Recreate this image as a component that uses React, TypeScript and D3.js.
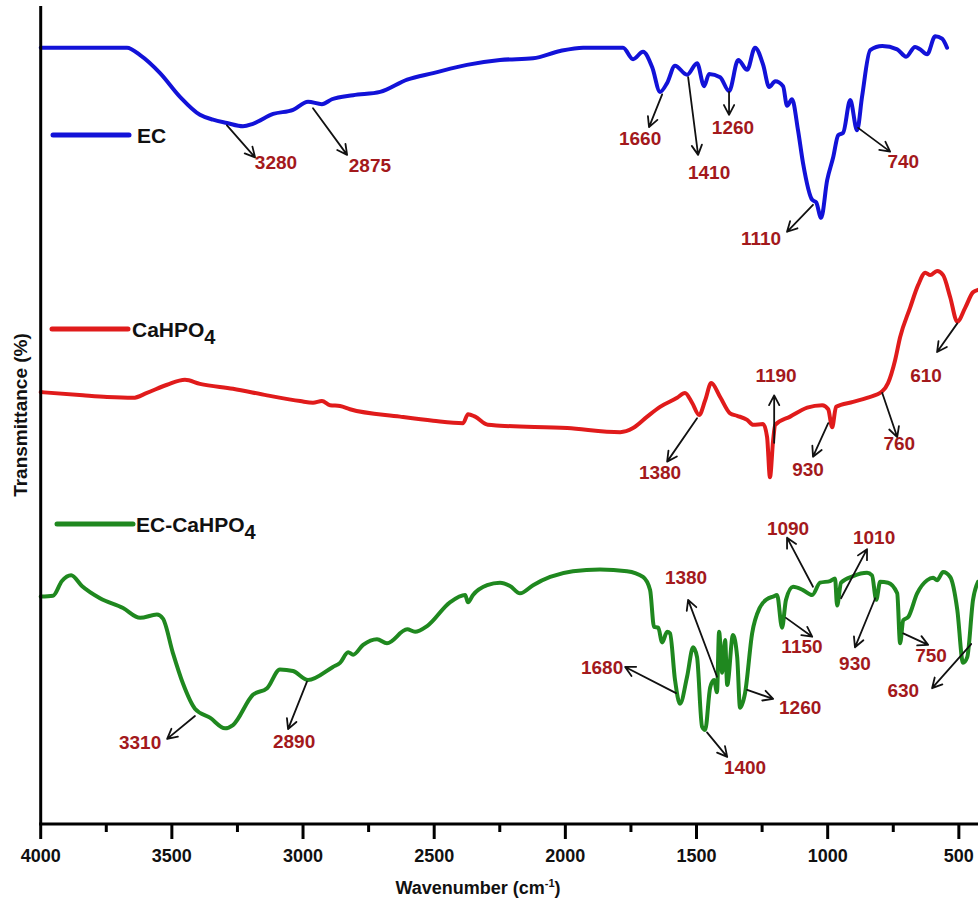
import React from "react";
import * as d3 from "d3";

// FTIR spectra: [wavenumber (cm-1), transmittance (%)]
const ecSpectrum: [number, number][] = [
  [4000, 94.9], [3671, 94.9], [3621, 94.0], [3545, 91.8], [3469, 88.9], [3393, 86.7],
  [3343, 86.1], [3290, 85.7], [3229, 85.3], [3191, 85.6], [3114, 86.8], [3038, 87.3],
  [2981, 88.3], [2928, 88.0], [2890, 88.6], [2809, 89.1], [2706, 89.5], [2603, 91.0],
  [2504, 91.8], [2375, 92.8], [2249, 93.4], [2123, 93.6], [2020, 94.5], [1932, 94.9],
  [1780, 94.9], [1742, 93.5], [1704, 94.4], [1669, 92.5], [1639, 89.5], [1612, 90.6],
  [1582, 92.7], [1536, 91.6], [1498, 93.0], [1471, 90.2], [1452, 91.7], [1410, 91.3],
  [1376, 89.6], [1341, 93.4], [1307, 92.2], [1277, 94.9], [1246, 92.8], [1223, 90.1],
  [1200, 90.8], [1170, 90.2], [1155, 87.8], [1136, 88.6], [1113, 84.8], [1094, 80.8],
  [1059, 76.3], [1044, 76.0], [1025, 74.1], [1002, 78.7], [979, 81.5], [960, 84.2],
  [941, 84.5], [914, 88.5], [888, 84.8], [869, 88.9], [838, 94.6], [792, 95.1],
  [735, 94.7], [701, 93.8], [667, 95.0], [648, 94.7], [621, 94.1], [590, 96.3],
  [564, 96.0], [545, 94.9],
];

const cahpo4Spectrum: [number, number][] = [
  [4000, 52.8], [3839, 52.4], [3747, 52.2], [3648, 52.1], [3595, 52.7], [3518, 53.7],
  [3450, 54.3], [3393, 53.8], [3267, 53.2], [3137, 52.4], [3011, 51.7], [2962, 51.5],
  [2928, 51.7], [2897, 51.2], [2859, 51.1], [2821, 50.7], [2630, 49.8], [2504, 49.3],
  [2390, 49.0], [2371, 50.1], [2344, 49.8], [2295, 48.8], [2249, 48.7], [1993, 48.4],
  [1791, 47.9], [1742, 48.4], [1688, 49.8], [1639, 51.0], [1574, 52.1], [1544, 52.7],
  [1517, 51.5], [1490, 50.0], [1467, 51.8], [1444, 53.9], [1410, 52.2], [1372, 50.2],
  [1345, 49.9], [1307, 49.4], [1284, 48.8], [1246, 48.9], [1231, 47.3], [1220, 42.4],
  [1208, 46.9], [1200, 48.8], [1143, 49.8], [1078, 50.9], [1021, 51.2], [998, 50.7],
  [983, 48.5], [968, 51.0], [903, 51.6], [850, 52.1], [792, 52.9], [770, 53.9],
  [743, 56.7], [724, 59.5], [686, 63.1], [655, 65.9], [628, 67.4], [609, 67.1],
  [583, 67.6], [560, 67.1], [533, 64.4], [506, 61.4], [476, 63.1], [446, 65.0],
  [427, 65.3],
];

const compositeSpectrum: [number, number][] = [
  [4000, 27.8], [3953, 27.9], [3919, 29.7], [3884, 30.4], [3843, 29.1], [3774, 27.6],
  [3686, 26.4], [3621, 25.2], [3557, 25.6], [3534, 25.1], [3496, 20.9], [3458, 17.2],
  [3412, 14.1], [3355, 13.0], [3297, 11.7], [3267, 12.1], [3191, 15.8], [3137, 16.6],
  [3088, 18.9], [3038, 18.7], [2981, 17.6], [2886, 19.2], [2859, 19.7], [2828, 21.0],
  [2809, 20.7], [2771, 21.9], [2718, 22.6], [2680, 22.1], [2603, 23.8], [2573, 23.5],
  [2527, 24.2], [2440, 27.1], [2382, 28.0], [2371, 27.1], [2352, 28.0], [2298, 29.2],
  [2249, 29.5], [2211, 29.1], [2173, 28.2], [2123, 29.2], [2058, 30.2], [1971, 30.9],
  [1868, 31.1], [1765, 30.9], [1704, 30.2], [1677, 28.6], [1662, 24.1], [1646, 24.0],
  [1631, 22.2], [1612, 23.5], [1601, 23.3], [1582, 17.6], [1563, 14.7], [1536, 18.0],
  [1513, 21.6], [1498, 20.4], [1479, 11.9], [1467, 11.5], [1448, 16.7], [1433, 17.6],
  [1422, 16.1], [1414, 23.5], [1402, 18.5], [1391, 22.5], [1383, 17.0], [1361, 23.1],
  [1345, 20.4], [1334, 14.2], [1315, 16.0], [1288, 23.3], [1258, 26.5], [1231, 27.5],
  [1208, 27.8], [1193, 28.0], [1174, 24.0], [1159, 27.4], [1132, 29.0], [1094, 28.6],
  [1059, 28.0], [1029, 29.5], [991, 29.7], [972, 30.0], [964, 26.7], [949, 29.5],
  [903, 30.3], [850, 30.7], [831, 30.4], [815, 27.4], [800, 29.6], [770, 29.5],
  [735, 28.2], [724, 22.1], [712, 24.9], [693, 25.3], [659, 28.2], [621, 29.8],
  [598, 30.1], [583, 29.8], [560, 30.8], [533, 30.2], [506, 26.2], [484, 19.7],
  [468, 20.4], [446, 27.4], [427, 29.6],
];

// Peak annotations: arrow from the band to the label, in data coordinates
type Note = { label: string; from: [number, number]; to: [number, number]; at: [number, number] };

const ecNotes: Note[] = [
  { label: "3280", from: [3290, 85.4], to: [3183, 81.5], at: [3103, 80.9] },
  { label: "2875", from: [2962, 87.5], to: [2832, 81.8], at: [2745, 80.6] },
  { label: "1660", from: [1631, 89.2], to: [1681, 85.2], at: [1715, 83.9] },
  { label: "1410", from: [1532, 91.3], to: [1494, 81.8], at: [1452, 79.7] },
  { label: "1260", from: [1376, 89.5], to: [1376, 86.7], at: [1361, 85.2] },
  { label: "1110", from: [1056, 75.7], to: [1155, 72.4], at: [1254, 71.6] },
  { label: "740", from: [884, 85.1], to: [762, 82.2], at: [712, 81.0] },
];

const cahpo4Notes: Note[] = [
  { label: "1380", from: [1498, 49.6], to: [1612, 44.3], at: [1639, 43.0] },
  { label: "1190", from: [1204, 46.6], to: [1204, 52.4], at: [1197, 54.9] },
  { label: "930", from: [998, 49.0], to: [1056, 44.9], at: [1075, 43.4] },
  { label: "760", from: [792, 52.7], to: [735, 47.3], at: [727, 46.5] },
  { label: "610", from: [506, 61.2], to: [583, 57.7], at: [625, 54.9] },
];

const compositeNotes: Note[] = [
  { label: "3310", from: [3412, 13.2], to: [3518, 10.4], at: [3621, 10.0] },
  { label: "2890", from: [2985, 17.4], to: [3057, 11.6], at: [3034, 10.1] },
  { label: "1680", from: [1578, 16.0], to: [1772, 19.2], at: [1860, 19.2] },
  { label: "1380", from: [1422, 18.0], to: [1532, 27.4], at: [1540, 30.2] },
  { label: "1260", from: [1307, 16.4], to: [1208, 15.3], at: [1105, 14.3] },
  { label: "1400", from: [1460, 11.2], to: [1383, 8.2], at: [1315, 7.0] },
  { label: "1090", from: [1056, 29.0], to: [1155, 35.0], at: [1151, 36.2] },
  { label: "1010", from: [949, 27.6], to: [850, 33.6], at: [823, 35.1] },
  { label: "1150", from: [1159, 25.2], to: [1059, 22.9], at: [1098, 21.8] },
  { label: "930", from: [819, 27.6], to: [896, 21.6], at: [896, 19.7] },
  { label: "750", from: [712, 23.3], to: [617, 21.9], at: [606, 20.7] },
  { label: "630", from: [453, 22.0], to: [602, 16.6], at: [712, 16.4] },
];

const majorTicks = [4000, 3500, 3000, 2500, 2000, 1500, 1000, 500];
const minorTicks = [3750, 3250, 2750, 2250, 1750, 1250, 750];

const WIDTH = 978;
const HEIGHT = 901;
const FONT = "'Liberation Sans', Arial, Helvetica, sans-serif";
const NOTE_COLOR = "#a3191c";

const x = d3.scaleLinear().domain([4000, 427]).range([40.7, 978]);
const y = d3.scaleLinear().domain([0, 100]).range([824, 6]);

const line = d3
  .line<[number, number]>()
  .x((d) => x(d[0]))
  .y((d) => y(d[1]))
  .curve(d3.curveMonotoneX);

function Arrow({ note }: { note: Note }) {
  const x1 = x(note.from[0]);
  const y1 = y(note.from[1]);
  const x2 = x(note.to[0]);
  const y2 = y(note.to[1]);
  const ang = Math.atan2(y2 - y1, x2 - x1);
  const len = 11;
  const spread = Math.PI / 6.5;
  const ax = x2 - len * Math.cos(ang - spread);
  const ay = y2 - len * Math.sin(ang - spread);
  const bx = x2 - len * Math.cos(ang + spread);
  const by = y2 - len * Math.sin(ang + spread);
  return (
    <g>
      <path
        d={`M${x1},${y1}L${x2},${y2}M${ax},${ay}L${x2},${y2}L${bx},${by}`}
        fill="none"
        stroke="#111"
        strokeWidth={1.8}
        strokeLinecap="round"
        strokeLinejoin="round"
      />
      <text
        x={x(note.at[0])}
        y={y(note.at[1])}
        dy="0.36em"
        textAnchor="middle"
        fontFamily={FONT}
        fontWeight="bold"
        fontSize={19}
        fill={NOTE_COLOR}
      >
        {note.label}
      </text>
    </g>
  );
}

const series = [
  { name: "EC", data: ecSpectrum, notes: ecNotes, color: "#1212d8" },
  { name: "CaHPO4", data: cahpo4Spectrum, notes: cahpo4Notes, color: "#e01b1b" },
  { name: "EC-CaHPO4", data: compositeSpectrum, notes: compositeNotes, color: "#1f881f" },
];

function LegendLabel({ text }: { text: string }) {
  const m = text.match(/^(.*?)(\d)$/);
  if (!m) return <>{text}</>;
  return (
    <>
      {m[1]}
      <tspan dy={7} fontSize={20}>
        {m[2]}
      </tspan>
    </>
  );
}

export default function App() {
  // legend rows sit beside each trace, near the left axis
  const legendRows = [
    { x0: 53, x1: 129, yy: 135, tx: 137 },
    { x0: 52, x1: 128, yy: 329, tx: 132 },
    { x0: 57, x1: 133, yy: 524, tx: 136 },
  ];

  return (
    <div style={{ position: "absolute", left: 0, top: 0 }}>
      <svg width={WIDTH} height={HEIGHT} style={{ display: "block", background: "#fff" }}>
        {/* traces */}
        {series.map((s) => (
          <path
            key={s.name}
            d={line(s.data) || ""}
            fill="none"
            stroke={s.color}
            strokeWidth={4}
            strokeLinejoin="round"
            strokeLinecap="round"
          />
        ))}

        {/* peak annotations */}
        {series.map((s) => (
          <g key={s.name + "-notes"}>
            {s.notes.map((n, i) => (
              <Arrow key={i} note={n} />
            ))}
          </g>
        ))}

        {/* legend */}
        {series.map((s, i) => {
          const r = legendRows[i];
          return (
            <g key={s.name + "-legend"}>
              <line
                x1={r.x0}
                x2={r.x1}
                y1={r.yy}
                y2={r.yy}
                stroke={s.color}
                strokeWidth={5}
                strokeLinecap="round"
              />
              <text
                x={r.tx}
                y={r.yy}
                dy="0.36em"
                fontFamily={FONT}
                fontWeight="bold"
                fontSize={21}
                fill="#111"
              >
                <LegendLabel text={s.name} />
              </text>
            </g>
          );
        })}

        {/* axes */}
        <line x1={x(4000)} x2={x(4000)} y1={y(100)} y2={y(0)} stroke="#000" strokeWidth={3} />
        <line x1={x(4000) - 1.5} x2={WIDTH} y1={y(0)} y2={y(0)} stroke="#000" strokeWidth={3} />
        {majorTicks.map((t) => (
          <g key={t}>
            <line x1={x(t)} x2={x(t)} y1={y(0)} y2={y(0) + 15} stroke="#000" strokeWidth={3} />
            <text
              x={x(t)}
              y={y(0) + 32}
              dy="0.36em"
              textAnchor="middle"
              fontFamily={FONT}
              fontWeight="bold"
              fontSize={18}
              fill="#111"
            >
              {t}
            </text>
          </g>
        ))}
        {minorTicks.map((t) => (
          <line key={t} x1={x(t)} x2={x(t)} y1={y(0)} y2={y(0) + 8} stroke="#000" strokeWidth={3} />
        ))}

        <text
          x={478}
          y={888}
          dy="0.36em"
          textAnchor="middle"
          fontFamily={FONT}
          fontWeight="bold"
          fontSize={18}
          fill="#111"
        >
          Wavenumber (cm
          <tspan dy={-7} fontSize={11}>
            -1
          </tspan>
          <tspan dy={7}>)</tspan>
        </text>

        <text
          transform="translate(20,415) rotate(-90)"
          dy="0.36em"
          textAnchor="middle"
          fontFamily={FONT}
          fontWeight="bold"
          fontSize={19}
          fill="#111"
        >
          Transmittance (%)
        </text>
      </svg>
    </div>
  );
}
